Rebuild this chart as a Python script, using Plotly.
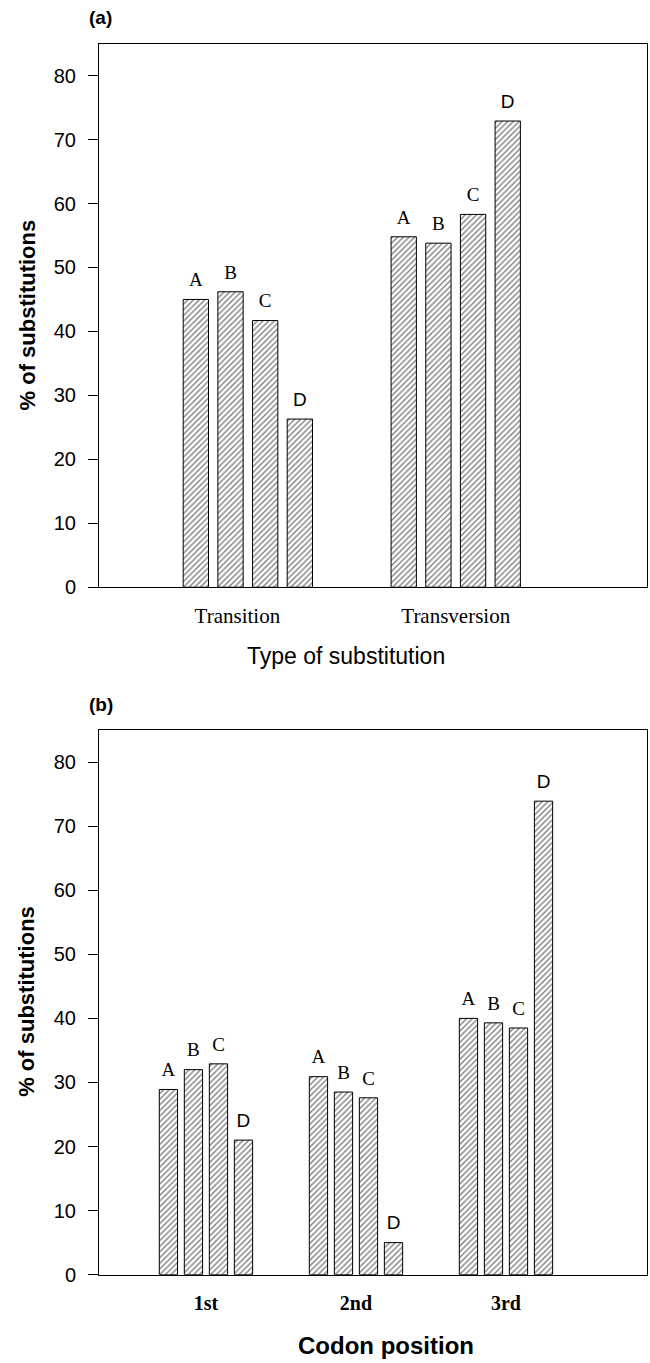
import plotly.graph_objects as go

# ---- data ----
series = ["A", "B", "C", "D"]
types = ["Transition", "Transversion"]
type_vals = {
    "A": [45.0, 54.8],
    "B": [46.2, 53.8],
    "C": [41.7, 58.3],
    "D": [26.3, 72.9],
}
positions = ["1st", "2nd", "3rd"]
pos_vals = {
    "A": [28.9, 30.9, 40.0],
    "B": [32.0, 28.5, 39.3],
    "C": [32.9, 27.6, 38.5],
    "D": [21.0, 5.0, 73.9],
}
y_ticks = [0, 10, 20, 30, 40, 50, 60, 70, 80]

W, H = 650, 1363
SANS = "Liberation Sans, Arial, sans-serif"
SERIF = "Liberation Serif, Times New Roman, serif"
GAP = 0.333

def px_x(p):
    return p / W

def px_y(p):
    return 1 - p / H

fig = go.Figure()

def label_font(s):
    return dict(family=SANS if s == "D" else SERIF, size=19, color="black")

def bar_marker():
    return dict(color="white", line=dict(color="black", width=1),
                pattern=dict(shape="/", fgcolor="black", bgcolor="white",
                             size=4, solidity=0.35))

panels = [("x", "y", types, type_vals), ("x2", "y2", positions, pos_vals)]
for xa, ya, cats, vals in panels:
    xs = list(range(len(cats)))
    for s in series:
        fig.add_trace(go.Bar(
            x=xs, y=vals[s], name=s, offsetgroup=s, alignmentgroup=xa,
            marker=bar_marker(), xaxis=xa, yaxis=ya,
            showlegend=False, hoverinfo="skip",
        ))
    for s in series:
        fig.add_trace(go.Scatter(
            x=xs, y=vals[s], mode="markers+text", text=[s] * len(cats),
            textposition="top center", textfont=label_font(s),
            marker=dict(size=12, opacity=0), offsetgroup=s, alignmentgroup=xa + "s",
            cliponaxis=False, xaxis=xa, yaxis=ya, showlegend=False, hoverinfo="skip",
        ))

xdom = [px_x(99), px_x(647)]
yax_common = dict(
    range=[0, 85], tickvals=y_ticks, ticks="outside", ticklen=10, tickwidth=1,
    tickcolor="black", showline=True, linecolor="black", linewidth=1,
    mirror=True, showgrid=False, zeroline=False,
    tickfont=dict(family=SANS, size=20, color="black"), ticklabelstandoff=8,
)
xax_common = dict(
    showline=True, linecolor="black", linewidth=1, mirror=True,
    showgrid=False, zeroline=False, ticks="", ticklabelstandoff=10,
)

fig.update_layout(
    width=W, height=H, margin=dict(l=0, r=0, t=0, b=0),
    paper_bgcolor="white", plot_bgcolor="white",
    barmode="group", bargap=GAP, bargroupgap=0.27,
    scattermode="group", scattergap=GAP,
    xaxis=dict(domain=xdom, anchor="y", range=[-0.716, 1.92],
               tickvals=list(range(len(types))),
               ticktext=[types[0] + "\u00a0" * 4, types[1]],
               tickfont=dict(family=SERIF, size=21, color="black"), **xax_common),
    yaxis=dict(domain=[px_y(592), px_y(44)], anchor="x", **yax_common),
    xaxis2=dict(domain=xdom, anchor="y2", range=[-0.713, 2.94],
                tickvals=list(range(len(positions))),
                ticktext=["<b>%s</b>" % p for p in positions],
                tickfont=dict(family=SERIF, size=20, color="black"), **xax_common),
    yaxis2=dict(domain=[px_y(1285), px_y(736)], anchor="x2", **yax_common),
)

ann = [
    dict(text="<b>(a)</b>", x=px_x(87), y=px_y(18), xanchor="left", yanchor="middle",
         font=dict(family=SANS, size=19, color="black")),
    dict(text="<b>(b)</b>", x=px_x(87), y=px_y(710), xanchor="left", yanchor="middle",
         font=dict(family=SANS, size=19, color="black")),
    dict(text="<b>% of substitutions</b>", x=px_x(27), y=px_y(318), textangle=-90,
         xanchor="center", yanchor="middle", font=dict(family=SANS, size=22, color="black")),
    dict(text="<b>% of substitutions</b>", x=px_x(27), y=px_y(1010), textangle=-90,
         xanchor="center", yanchor="middle", font=dict(family=SANS, size=22, color="black")),
    dict(text="Type of substitution", x=px_x(346), y=px_y(661), xanchor="center",
         yanchor="middle", font=dict(family=SANS, size=23, color="black")),
    dict(text="<b>Codon position</b>", x=px_x(386), y=px_y(1356), xanchor="center",
         yanchor="middle", font=dict(family=SANS, size=24, color="black")),
]
for a in ann:
    a.update(xref="paper", yref="paper", showarrow=False)
fig.update_layout(annotations=ann)

fig.write_html(
    "out.html",
    config={"displayModeBar": False},
    post_script="document.body.style.margin='0';document.body.style.overflow='hidden';",
)
